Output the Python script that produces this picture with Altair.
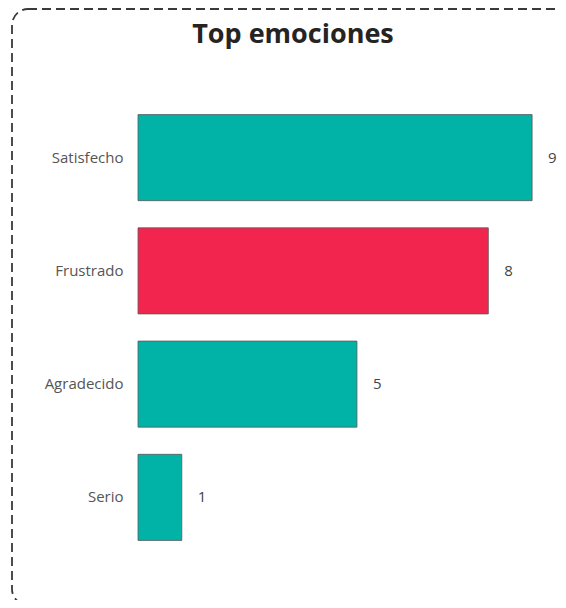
import altair as alt
import pandas as pd

categories = ["Satisfecho", "Frustrado", "Agradecido", "Serio"]
values = [9, 8, 5, 1]
bar_colors = ["#01B2A7", "#F2254F", "#01B2A7", "#01B2A7"]
title_text = ["Top emociones"]

df = pd.DataFrame({"emocion": categories, "cuenta": values, "color": bar_colors})
frame_df = pd.DataFrame({"t": title_text})

FONT = "Open Sans"

y_enc = alt.Y("emocion:N", sort=categories, title=None,
              scale=alt.Scale(paddingInner=0.24, paddingOuter=0.12),
              axis=alt.Axis(domain=False, ticks=False, labelPadding=15,
                            labelFontSize=15, labelColor="#555555", labelFont=FONT))
x_enc = alt.X("cuenta:Q", title=None, axis=None,
              scale=alt.Scale(domain=[0, 9.5], nice=False, zero=True))

bars = alt.Chart(df).mark_bar(stroke="#5a5a5a", strokeWidth=1, strokeOpacity=0.8).encode(
    x=x_enc, y=y_enc, color=alt.Color("color:N", scale=None)
)
labels = alt.Chart(df).mark_text(align="left", baseline="middle", dx=16,
                                 fontSize=15, color="#444444", font=FONT).encode(
    x=x_enc, y=alt.Y("emocion:N", sort=categories), text="cuenta:Q"
)
border = alt.Chart(frame_df).mark_rect(
    fill=None, fillOpacity=0, stroke="#3a3a3a", strokeWidth=1.8, strokeDash=[9, 5], cornerRadius=16
).encode(
    x=alt.value(-126), x2=alt.value(436), y=alt.value(-92), y2=alt.value(504)
)
title = alt.Chart(frame_df).mark_text(
    align="center", baseline="alphabetic", fontSize=27, fontWeight="bold",
    font=FONT, color="#252423"
).encode(x=alt.value(155), y=alt.value(-58), text="t:N")

chart = alt.layer(border, bars, labels, title).properties(
    width=416, height=453,
    padding={"left": 130, "top": 93, "right": 4, "bottom": 46},
    autosize=alt.AutoSizeParams(type="none"),
).configure_view(stroke=None)

chart.save("out.html", embed_options={"renderer": "svg", "actions": False})
